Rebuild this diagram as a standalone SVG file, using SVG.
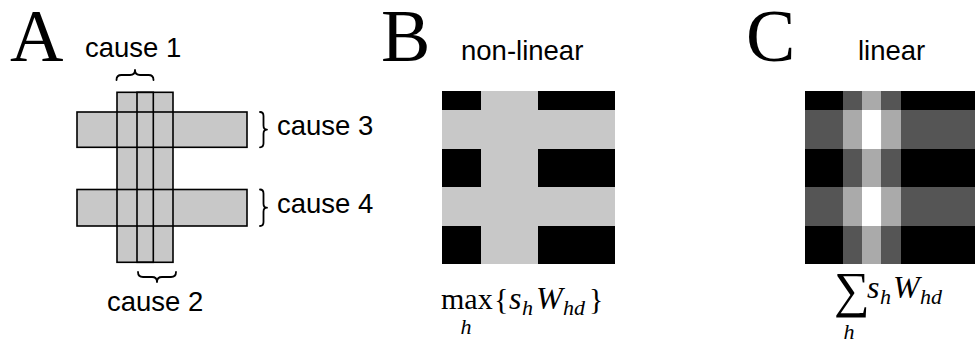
<svg xmlns="http://www.w3.org/2000/svg" width="975" height="342" viewBox="0 0 975 342">
<style>
.lbl{font-family:"Liberation Serif","Times New Roman",serif;font-size:74px;fill:#000}
.sans{font-family:"Liberation Sans",Arial,sans-serif;font-size:27.5px;fill:#000}
.m{font-family:"Liberation Serif","Times New Roman",serif;font-size:30px;fill:#000}
.mi{font-family:"Liberation Serif","Times New Roman",serif;font-size:32px;font-style:italic;fill:#000}
.ms{font-family:"Liberation Serif","Times New Roman",serif;font-size:22px;font-style:italic;fill:#000}
.fill{fill:#c8c8c8;stroke:none}
.edge{fill:none;stroke:#000;stroke-width:1.6}
.brace{fill:none;stroke:#000;stroke-width:1.8;stroke-linejoin:round;stroke-linecap:round}
.k{fill:#000}.g1{fill:#555555}.g2{fill:#aaaaaa}.g3{fill:#ffffff}.lg{fill:#c8c8c8}
</style>
<rect width="975" height="342" fill="#fff"/>

<!-- Panel A -->
<g id="panelA">
  <text class="lbl" x="10" y="61">A</text>
  <g id="shapes">
    <rect class="fill" x="77" y="112" width="170" height="35.3"/>
    <rect class="fill" x="77" y="189.5" width="170" height="36.5"/>
    <rect class="fill" x="117" y="92.3" width="56" height="170"/>
    <rect class="edge" x="77" y="112" width="170" height="35.3"/>
    <rect class="edge" x="77" y="189.5" width="170" height="36.5"/>
    <rect class="edge" x="117" y="92.3" width="36.3" height="170"/>
    <rect class="edge" x="137" y="92.3" width="36" height="170"/>
  </g>
  <g id="cause1">
    <path class="brace" d="M116.5 80 Q116.5 75 121.5 75 L130 75 Q135 75 135 70 Q135 75 140 75 L148.5 75 Q153.5 75 153.5 80"/>
    <text class="sans" x="85" y="57">cause 1</text>
  </g>
  <g id="cause2">
    <path class="brace" d="M138 272 Q138 277 143 277 L152 277 Q157 277 157 282 Q157 277 162 277 L171 277 Q176 277 176 272"/>
    <text class="sans" x="107" y="311">cause 2</text>
  </g>
  <g id="cause3">
    <path class="brace" d="M260 112 Q263.5 112 263.5 116 L263.5 125.5 Q263.5 129.6 267 129.6 Q263.5 129.6 263.5 133.7 L263.5 143.3 Q263.5 147.3 260 147.3"/>
    <text class="sans" x="277" y="135">cause 3</text>
  </g>
  <g id="cause4">
    <path class="brace" d="M260 189.5 Q263.5 189.5 263.5 193.5 L263.5 203.7 Q263.5 207.7 267 207.7 Q263.5 207.7 263.5 211.7 L263.5 222 Q263.5 226 260 226"/>
    <text class="sans" x="277" y="213">cause 4</text>
  </g>
</g>

<!-- Panel B -->
<g id="panelB">
  <text class="lbl" x="381" y="61">B</text>
  <text class="sans" x="461" y="60">non-linear</text>
  <g id="mapB">
    <rect class="k" x="442" y="91" width="173" height="173"/>
    <rect class="lg" x="442" y="110" width="173" height="39"/>
    <rect class="lg" x="442" y="187" width="173" height="39"/>
    <rect class="lg" x="481" y="91" width="57" height="173"/>
  </g>
  <g id="formulaB">
    <text class="m" x="441" y="309">max</text>
    <text class="ms" x="466" y="334" text-anchor="middle">h</text>
    <text class="m" x="494" y="309">{</text>
    <text class="mi" x="509" y="309">s</text>
    <text class="ms" x="522" y="315">h</text>
    <text class="mi" x="536" y="309">W</text>
    <text class="ms" x="563" y="315">hd</text>
    <text class="m" x="589" y="309">}</text>
  </g>
</g>

<!-- Panel C -->
<g id="panelC">
  <text class="lbl" x="746" y="61">C</text>
  <text class="sans" x="858" y="60">linear</text>
  <g id="mapC">
    <rect class="k" x="805" y="91" width="173" height="173"/>
    <rect class="g1" x="805" y="110" width="173" height="39"/>
    <rect class="g1" x="805" y="187" width="173" height="39"/>
    <rect class="g1" x="843" y="91" width="19" height="173"/>
    <rect class="g2" x="862" y="91" width="19.5" height="173"/>
    <rect class="g1" x="881.5" y="91" width="19.5" height="173"/>
    <rect class="g2" x="843" y="110" width="19" height="39"/>
    <rect class="g3" x="862" y="110" width="19.5" height="39"/>
    <rect class="g2" x="881.5" y="110" width="19.5" height="39"/>
    <rect class="g2" x="843" y="187" width="19" height="39"/>
    <rect class="g3" x="862" y="187" width="19.5" height="39"/>
    <rect class="g2" x="881.5" y="187" width="19.5" height="39"/>
  </g>
  <g id="formulaC">
    <text class="m" x="834" y="307" style="font-size:50px">∑</text>
    <text class="ms" x="849" y="339" text-anchor="middle">h</text>
    <text class="mi" x="867" y="298">s</text>
    <text class="ms" x="880" y="304">h</text>
    <text class="mi" x="893" y="298">W</text>
    <text class="ms" x="920" y="304">hd</text>
  </g>
</g>
</svg>
